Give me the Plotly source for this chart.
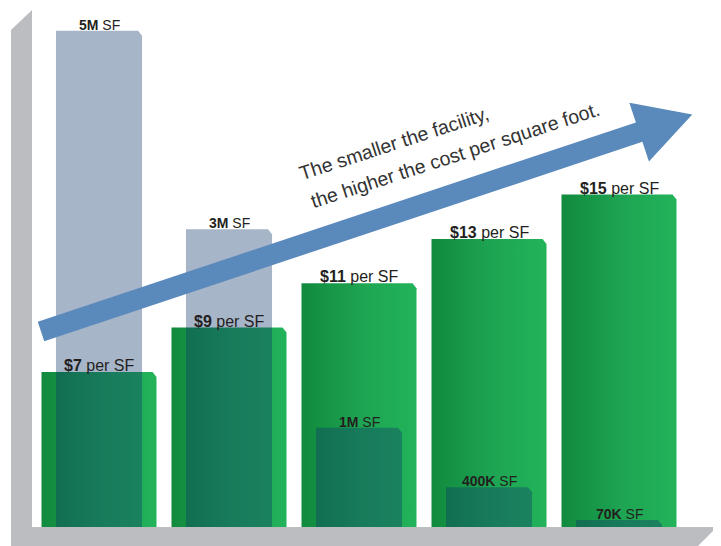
import math
import plotly.graph_objects as go

# ---------------- data ----------------
categories = ["5M SF", "3M SF", "1M SF", "400K SF", "70K SF"]
cost_per_sf = [7, 9, 11, 13, 15]            # $ per square foot
size_msf = [5.0, 3.0, 1.0, 0.4, 0.07]       # facility size, million SF
cost_labels = ["$7", "$9", "$11", "$13", "$15"]
size_labels = ["5M", "3M", "1M", "400K", "70K"]
headline = ["The smaller the facility,", "the higher the cost per square foot."]

# ---------------- layout constants ----------------
FIG_W, FIG_H = 721, 546
PAGE_OFFSET = 8                      # default body margin of the html page
# plot area in screen pixels
A_L, A_R, A_T, A_B = 34, 684, 10, 527
M_L = A_L - PAGE_OFFSET
M_T = A_T - PAGE_OFFSET
M_R = FIG_W - (A_R - PAGE_OFFSET)
M_B = FIG_H - (A_B - PAGE_OFFSET)
PW = A_R - A_L
PH = A_B - A_T

X_RANGE = [-0.5, len(categories) - 0.5]
COST_RANGE = [0, 23.33]
SIZE_RANGE = [0, 5.209]

px_x = PW / (X_RANGE[1] - X_RANGE[0])
px_cost = PH / (COST_RANGE[1] - COST_RANGE[0])
px_size = PH / (SIZE_RANGE[1] - SIZE_RANGE[0])

GREEN_HALF = 0.4423
SIZE_HALF = 0.331
CHAMFER_X = 4 / px_x

TEXT_DARK = "#231f20"
GRAY = "#bcbdc1"
ARROW = "#5a89bb"
GREEN_SCALE = [[0, "#118a3e"], [0.55, "#1ea553"], [1, "#22b35a"]]
OVERLAY = "rgba(14,52,107,0.365)"
FONT = "Liberation Sans, Arial, sans-serif"


def bar_poly(i, v, half, px_per_unit):
    cy = 5 / px_per_unit
    xl, xr = i - half, i + half
    xs = [xl, xl, xr - CHAMFER_X, xr, xr, xl]
    ys = [0, v, v, v - cy, 0, 0]
    return xs, ys


def px2paper(px, py):
    """screen pixel -> paper coordinates"""
    return (px - A_L) / PW, (A_B - py) / PH


fig = go.Figure()

# cost bars (green gradient)
for i, v in enumerate(cost_per_sf):
    xs, ys = bar_poly(i, v, GREEN_HALF, px_cost)
    fig.add_trace(go.Scatter(
        x=xs, y=ys, mode="lines", fill="toself",
        line=dict(width=0, color="rgba(0,0,0,0)"),
        fillgradient=dict(type="horizontal", start=i - GREEN_HALF, stop=i + GREEN_HALF,
                          colorscale=GREEN_SCALE),
        hoverinfo="skip", showlegend=False, yaxis="y", name=cost_labels[i]))

# facility size bars (translucent overlay)
for i, v in enumerate(size_msf):
    xs, ys = bar_poly(i, v, SIZE_HALF, px_size)
    fig.add_trace(go.Scatter(
        x=xs, y=ys, mode="lines", fill="toself",
        line=dict(width=0, color="rgba(0,0,0,0)"),
        fillcolor=OVERLAY,
        hoverinfo="skip", showlegend=False, yaxis="y2", name=size_labels[i]))

annotations = []
for i, v in enumerate(cost_per_sf):
    annotations.append(dict(
        x=i, y=v, xref="x", yref="y", yanchor="bottom", xanchor="center",
        yshift=-4, showarrow=False,
        text=f"<b>{cost_labels[i]}</b> per SF",
        font=dict(family=FONT, size=16, color=TEXT_DARK)))
for i, v in enumerate(size_msf):
    annotations.append(dict(
        x=i, y=v, xref="x", yref="y2", yanchor="bottom", xanchor="center",
        yshift=-4, showarrow=False,
        text=f"<b>{size_labels[i]}</b> SF",
        font=dict(family=FONT, size=14, color=TEXT_DARK)))

# headline along the arrow
line_centers = [(394, 143), (455, 155)]
for txt, (cx, cy) in zip(headline, line_centers):
    ax, ay = px2paper(cx, cy)
    annotations.append(dict(
        x=ax, y=ay, xref="paper", yref="paper", xanchor="center", yanchor="middle",
        showarrow=False, textangle=-18, text=txt,
        font=dict(family=FONT, size=19.5, color="#333333")))


def path_from(points):
    pts = [px2paper(px, py) for px, py in points]
    return "M " + " L ".join(f"{x:.5f},{y:.5f}" for x, y in pts) + " Z"


wall = [(11, 30), (32, 10), (32, 560), (11, 560)]
floor = [(11, 527), (717, 527), (684, 560), (11, 560)]

ang = math.atan2(1, 3)
u = (math.cos(ang), -math.sin(ang))
n = (math.sin(ang), math.cos(ang))
S = (41, 331.5)
shaft_len, tip_len, hw_s, hw_h = 630.5, 686.5, 10.25, 31
B = (S[0] + shaft_len * u[0], S[1] + shaft_len * u[1])
T = (S[0] + tip_len * u[0], S[1] + tip_len * u[1])


def off(p, k):
    return (p[0] + k * n[0], p[1] + k * n[1])


arrow = [off(S, -hw_s), off(B, -hw_s), off(B, -hw_h), T, off(B, hw_h), off(B, hw_s), off(S, hw_s)]

shapes = [
    dict(type="path", xref="paper", yref="paper", path=path_from(wall),
         fillcolor=GRAY, line=dict(width=0), layer="above"),
    dict(type="path", xref="paper", yref="paper", path=path_from(floor),
         fillcolor=GRAY, line=dict(width=0), layer="above"),
    dict(type="path", xref="paper", yref="paper", path=path_from(arrow),
         fillcolor=ARROW, line=dict(width=0), layer="above"),
]

fig.update_layout(
    width=FIG_W, height=FIG_H, autosize=False,
    margin=dict(l=M_L, r=M_R, t=M_T, b=M_B, pad=0),
    paper_bgcolor="white", plot_bgcolor="white",
    xaxis=dict(range=X_RANGE, visible=False, fixedrange=True),
    yaxis=dict(range=COST_RANGE, visible=False, fixedrange=True),
    yaxis2=dict(range=SIZE_RANGE, visible=False, overlaying="y", fixedrange=True),
    showlegend=False,
    annotations=annotations,
    shapes=shapes,
)

fig.write_html("out.html")
